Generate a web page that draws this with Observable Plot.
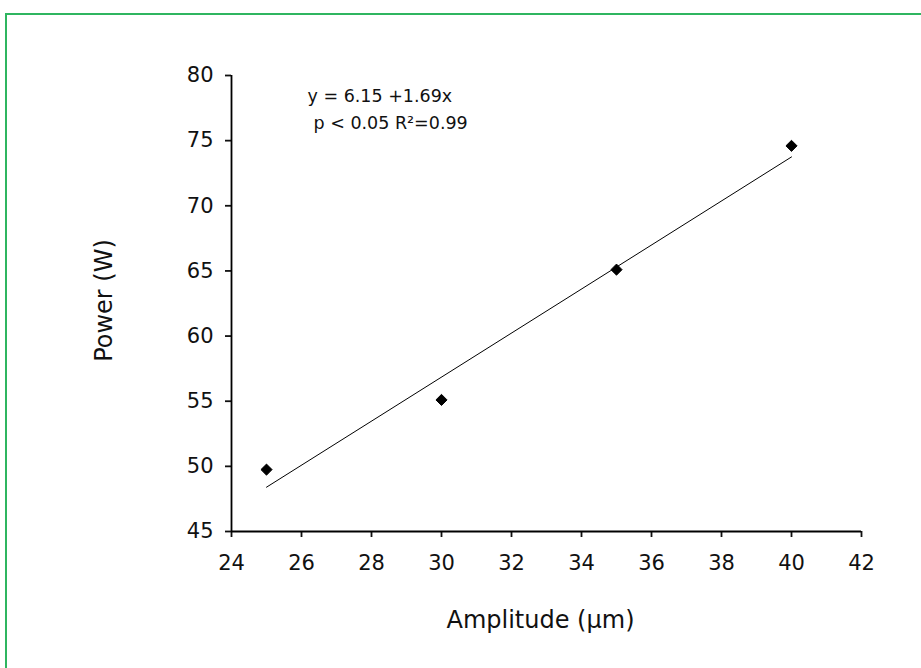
<!DOCTYPE html>
<html>
<head>
<meta charset="utf-8">
<script src="https://cdn.jsdelivr.net/npm/d3@7"></script>
<script src="https://cdn.jsdelivr.net/npm/@observablehq/plot@0.6"></script>
<style>
  html, body { margin: 0; padding: 0; background: #fff; width: 921px; height: 668px; overflow: hidden; }
  #frame { position: absolute; left: 5px; top: 13px; width: 1000px; height: 800px; border: 2px solid #2fb560; box-sizing: border-box; }
  #chart { position: absolute; left: 0; top: 0; }
</style>
</head>
<body>
<div id="frame"></div>
<div id="chart"></div>
<script>
// Observed data
const amplitude = [25, 30, 35, 40];
const power = [49.75, 55.1, 65.1, 74.6];
// Fitted regression line endpoints (y = 6.15 + 1.69x)
const fitX = [25, 40];
const fitY = [48.4, 73.75];
// Ticks
const xTicks = [24, 26, 28, 30, 32, 34, 36, 38, 40, 42];
const yTicks = [45, 50, 55, 60, 65, 70, 75, 80];
// Texts
const xLabel = "Amplitude (µm)";
const yLabel = "Power (W)";
const eqLine1 = "y = 6.15 +1.69x";
const eqLine2 = "p < 0.05 R²=0.99";

const points = amplitude.map((a, i) => ({x: a, y: power[i]}));
const fit = fitX.map((a, i) => ({x: a, y: fitY[i]}));

const font = "'DejaVu Sans', 'Liberation Sans', Arial, sans-serif";

const chart = Plot.plot({
  width: 921,
  height: 668,
  marginLeft: 231,
  marginRight: 60,
  marginTop: 75,
  marginBottom: 137,
  style: {fontFamily: font, fontSize: "21px", color: "#111", background: "transparent", overflow: "visible"},
  x: {domain: [24, 42]},
  y: {domain: [45, 80]},
  marks: [
    Plot.axisX({ticks: xTicks, tickSize: 6, tickPadding: 18, strokeWidth: 1.8, label: null, fontSize: 21}),
    Plot.axisY({ticks: yTicks, tickSize: 6, tickPadding: 12, strokeWidth: 1.8, label: null, fontSize: 21}),
    Plot.ruleX([24], {y1: 45, y2: 80, stroke: "#000", strokeWidth: 1.8}),
    Plot.ruleY([45], {x1: 24, x2: 42, stroke: "#000", strokeWidth: 1.8}),
    Plot.line(fit, {x: "x", y: "y", stroke: "#000", strokeWidth: 1}),
    Plot.dot(points, {x: "x", y: "y", symbol: "diamond2", r: 5, fill: "#000", stroke: "#000", strokeWidth: 1, strokeLinejoin: "round"}),
    Plot.text([eqLine1], {frameAnchor: "top-left", dx: 76, dy: 26, textAnchor: "start", lineAnchor: "bottom", fontSize: 17.5, fill: "#111"}),
    Plot.text([eqLine2], {frameAnchor: "top-left", dx: 82, dy: 53, textAnchor: "start", lineAnchor: "bottom", fontSize: 17.5, fill: "#111"}),
    Plot.text([xLabel], {frameAnchor: "bottom", dx: -6, dy: 89, textAnchor: "middle", lineAnchor: "middle", fontSize: 24, fill: "#111"}),
    Plot.text([yLabel], {frameAnchor: "left", dx: -127, dy: -3, rotate: -90, textAnchor: "middle", lineAnchor: "middle", fontSize: 24, fill: "#111"})
  ]
});
document.getElementById("chart").appendChild(chart);
</script>
</body>
</html>
